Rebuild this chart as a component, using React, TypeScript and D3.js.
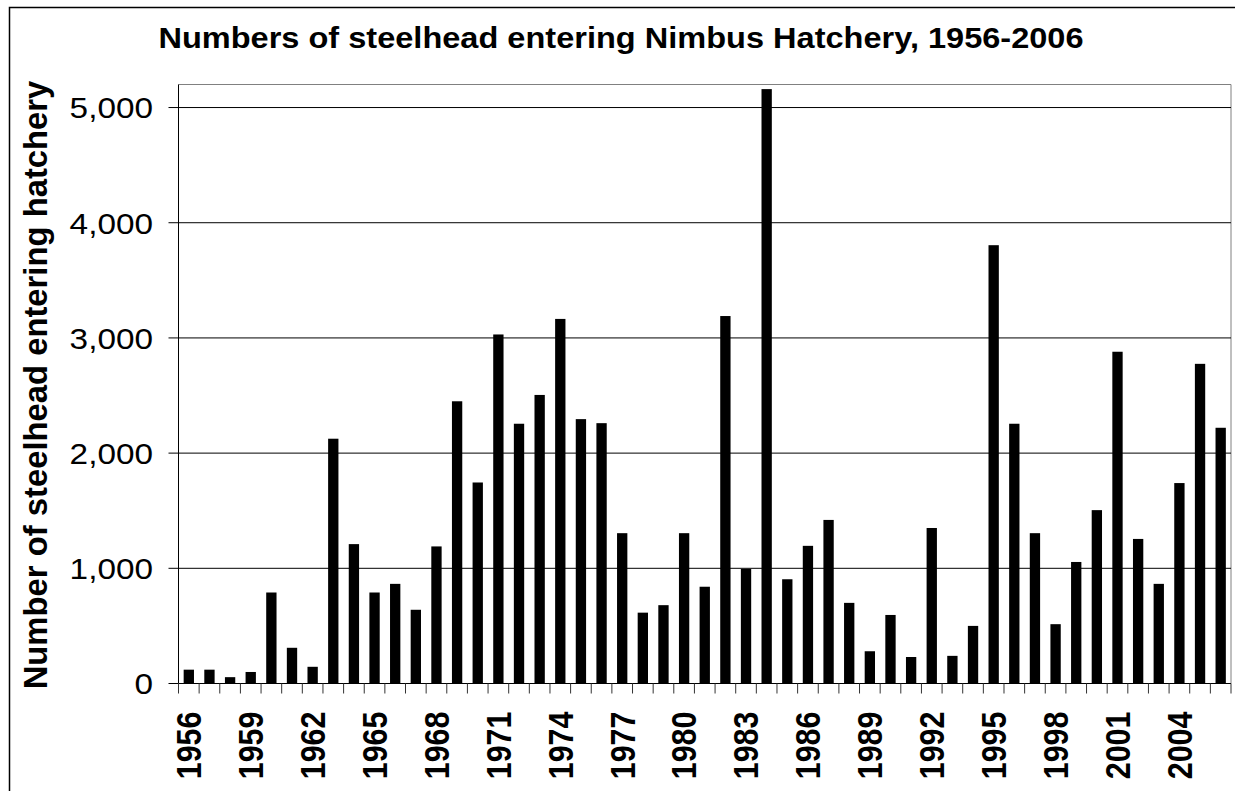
import React from "react";
import * as d3 from "d3";

const years: number[] = d3.range(1956, 2007);
const counts: number[] = [
  120, 120, 55, 100, 790, 310, 145, 2125, 1210, 790,
  865, 640, 1190, 2450, 1745, 3030, 2255, 2505, 3165, 2295,
  2260, 1305, 615, 680, 1305, 840, 3190, 995, 5160, 905,
  1195, 1420, 700, 280, 595, 230, 1350, 240, 500, 3805,
  2255, 1305, 515, 1055, 1505, 2880, 1255, 865, 1740, 2775,
  2220,
];
const yTicks: number[] = [0, 1000, 2000, 3000, 4000, 5000];
const labelYears: number[] = years.filter((_, i) => i % 3 === 0);

const titleText = "Numbers of steelhead entering Nimbus Hatchery, 1956-2006";
const yTitleText = "Number of steelhead entering hatchery";

const W = 1235;
const H = 791;
const left = 178.5;
const right = 1231;
const top = 84.5;
const bottom = 683.5;
const SX = 1.13;
const FONT = "'Liberation Sans', Arial, Helvetica, sans-serif";

export default function App() {
  const x = d3
    .scaleBand<number>()
    .domain(years)
    .range([left, right])
    .paddingInner(0.5)
    .paddingOuter(0.25);
  const y = d3.scaleLinear().domain([0, 5200]).range([bottom, top]);
  const step = x.step();
  const boundaries = d3.range(years.length + 1).map((i) => left + i * step);
  const fmt = d3.format(",");

  return (
    <svg
      width={W}
      height={H}
      style={{ position: "absolute", left: 0, top: 0, background: "#fff" }}
      fontFamily={FONT}
    >
      <rect x={0} y={0} width={W} height={H} fill="#fff" />
      <rect x={9.5} y={7.5} width={1240} height={800} fill="none" stroke="#000" strokeWidth={1.5} />

      {/* title */}
      <text
        transform={`translate(${621},${48}) scale(${SX},1)`}
        textAnchor="middle"
        fontWeight="bold"
        fontSize={28.8}
        fill="#000"
      >
        {titleText}
      </text>

      {/* plot frame */}
      <line x1={left} x2={right} y1={top} y2={top} stroke="#808080" strokeWidth={1} />
      <line x1={right} x2={right} y1={top} y2={bottom} stroke="#808080" strokeWidth={1} />

      {/* gridlines */}
      {yTicks.filter((t) => t > 0).map((t) => (
        <line key={"g" + t} x1={left} x2={right} y1={y(t)} y2={y(t)} stroke="#000" strokeWidth={1} />
      ))}

      {/* bars */}
      {years.map((yr, i) => (
        <rect
          key={yr}
          x={x(yr)}
          y={y(counts[i])}
          width={x.bandwidth()}
          height={bottom - y(counts[i])}
          fill="#000"
        />
      ))}

      {/* y axis */}
      <line x1={left} x2={left} y1={top} y2={bottom} stroke="#000" strokeWidth={1} />
      {yTicks.map((t) => (
        <g key={"y" + t}>
          <line x1={left - 10} x2={left} y1={y(t)} y2={y(t)} stroke="#000" strokeWidth={1} />
          <text
            transform={`translate(${153},${y(t) + 10.8}) scale(${SX},1)`}
            textAnchor="end"
            fontSize={29.5}
            fill="#000"
          >
            {fmt(t)}
          </text>
        </g>
      ))}

      {/* x axis */}
      <line x1={left} x2={right} y1={bottom} y2={bottom} stroke="#000" strokeWidth={1} />
      {boundaries.map((bx, i) => (
        <line key={"t" + i} x1={bx} x2={bx} y1={bottom} y2={bottom + 10} stroke="#333" strokeWidth={1} />
      ))}
      {labelYears.map((yr) => {
        const cx = (x(yr) as number) + x.bandwidth() / 2;
        return (
          <text
            key={"l" + yr}
            transform={`translate(${cx + 12.3},${711.5}) scale(${SX},1) rotate(-90)`}
            textAnchor="end"
            fontWeight="bold"
            fontSize={30.5}
            fill="#000"
          >
            {yr}
          </text>
        );
      })}

      {/* y axis title */}
      <text
        transform={`translate(${47},${385}) rotate(-90)`}
        textAnchor="middle"
        fontWeight="bold"
        fontSize={32.8}
        fill="#000"
      >
        {yTitleText}
      </text>
    </svg>
  );
}
